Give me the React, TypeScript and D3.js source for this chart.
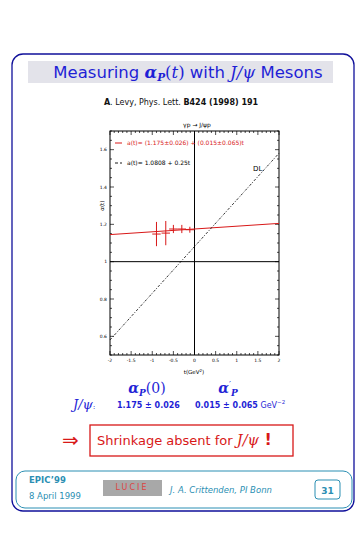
import React from "react";
import * as d3 from "d3";

// J/psi effective trajectory points (t in GeV^2, alpha)
const tValues = [-0.9, -0.68, -0.5, -0.3, -0.11];
const tErrors = [0.1, 0.1, 0.1, 0.1, 0.1];
const alphaValues = [1.148, 1.153, 1.175, 1.175, 1.171];
const alphaErrors = [0.065, 0.065, 0.022, 0.022, 0.016];

// fits: [intercept, slope]
const fitJpsi = [1.175, 0.015];
const fitDL = [1.0808, 0.25];

const xTicks = [-2, -1.5, -1, -0.5, 0, 0.5, 1, 1.5, 2];
const yTicks = [0.6, 0.8, 1, 1.2, 1.4, 1.6];

const BLUE = "#1f1fd6";
const RED = "#d81818";
const TEAL = "#2b8fb3";
const SANS = "'DejaVu Sans', Verdana, sans-serif";
const SERIF = "'DejaVu Serif', 'Liberation Serif', serif";

function App() {
  const x = d3.scaleLinear().domain([-2, 2]).range([110, 279]);
  const y = d3.scaleLinear().domain([0.5, 1.7]).range([355, 131]);
  const [x0, x1] = x.range();
  const [y0, y1] = y.range();

  const jpsiLine = d3
    .line<number>()
    .x((t) => x(t))
    .y((t) => y(fitJpsi[0] + fitJpsi[1] * t));
  const dlLine = d3
    .line<number>()
    .x((t) => x(t))
    .y((t) => y(fitDL[0] + fitDL[1] * t));

  const xMinor = d3.range(-20, 21).map((i) => i / 10);
  const yMinor = d3.range(10, 35).map((i) => i / 20);

  return (
    <svg
      width={363}
      height={535}
      style={{ position: "absolute", left: 0, top: 0, background: "#fff" }}
    >
      {/* outer slide frame */}
      <rect x={12} y={54} width={342} height={457} rx={11} fill="none" stroke="#10109a" strokeWidth={1.3} />

      {/* title */}
      <rect x={28} y={61} width={305} height={22} fill="#e3e3ea" />
      <text x={188} y={78} textAnchor="middle" fontFamily={SANS} fontSize={16.5} fill={BLUE}>
        Measuring{" "}
        <tspan fontFamily={SERIF} fontStyle="italic" fontWeight="bold">α</tspan>
        <tspan fontFamily={SERIF} fontStyle="italic" fontWeight="bold" fontSize={10.5} dy={3}>P</tspan>
        <tspan fontFamily={SERIF} dy={-3}>(</tspan>
        <tspan fontFamily={SERIF} fontStyle="italic">t</tspan>
        <tspan fontFamily={SERIF}>)</tspan> with{" "}
        <tspan fontFamily={SERIF} fontStyle="italic">J/ψ</tspan> Mesons
      </text>
      <text x={181} y={105} textAnchor="middle" fontFamily={SANS} fontSize={8} fill="#111">
        <tspan fontWeight="bold">A</tspan>. Levy, Phys. Lett. <tspan fontWeight="bold">B424 (1998) 191</tspan>
      </text>

      {/* plot */}
      <text x={197} y={127} textAnchor="middle" fontFamily={SANS} fontSize={6} fill="#000">
        γp → J/ψp
      </text>
      <rect x={x0} y={y1} width={x1 - x0} height={y0 - y1} fill="none" stroke="#000" strokeWidth={1} />

      {/* ticks */}
      {xMinor.map((t, i) => {
        const major = Math.abs(t * 2 - Math.round(t * 2)) < 1e-6;
        const len = major ? 4 : 2;
        return (
          <g key={"xt" + i} stroke="#000" strokeWidth={0.7}>
            <line x1={x(t)} x2={x(t)} y1={y0} y2={y0 - len} />
            <line x1={x(t)} x2={x(t)} y1={y1} y2={y1 + len} />
          </g>
        );
      })}
      {yMinor.map((v, i) => {
        const major = Math.abs(v * 5 - Math.round(v * 5)) < 1e-6;
        const len = major ? 4 : 2;
        return (
          <g key={"yt" + i} stroke="#000" strokeWidth={0.7}>
            <line x1={x0} x2={x0 + len} y1={y(v)} y2={y(v)} />
            <line x1={x1} x2={x1 - len} y1={y(v)} y2={y(v)} />
          </g>
        );
      })}
      {xTicks.map((t) => (
        <text key={"xl" + t} x={x(t)} y={362} textAnchor="middle" fontFamily={SANS} fontSize={4.5} fill="#000">
          {t}
        </text>
      ))}
      {yTicks.map((v) => (
        <text key={"yl" + v} x={107} y={y(v) + 1.5} textAnchor="end" fontFamily={SANS} fontSize={4.5} fill="#000">
          {v}
        </text>
      ))}
      <text x={194} y={374} textAnchor="middle" fontFamily={SANS} fontSize={5.5} fill="#000">
        t(GeV<tspan fontSize={4} dy={-2}>2</tspan><tspan dy={2}>)</tspan>
      </text>
      <text
        transform={`translate(104,${y(1.3)}) rotate(-90)`}
        textAnchor="middle"
        fontFamily={SANS}
        fontSize={5.5}
        fill="#000"
      >
        α(t)
      </text>

      {/* reference lines */}
      <line x1={x(0)} x2={x(0)} y1={y1} y2={y0} stroke="#000" strokeWidth={1} />
      <line x1={x0} x2={x1} y1={y(1)} y2={y(1)} stroke="#000" strokeWidth={1} />

      {/* fits */}
      <path d={jpsiLine([-2, 2]) || ""} fill="none" stroke={RED} strokeWidth={1} />
      <path d={dlLine([-2, 2]) || ""} fill="none" stroke="#000" strokeWidth={0.8} strokeDasharray="2.5,1.5,1,1.5" />
      <text x={253} y={171} fontFamily={SANS} fontSize={7} fill="#000">DL</text>

      {/* data points */}
      {tValues.map((t, i) => (
        <g key={"p" + i} stroke={RED} strokeWidth={1}>
          <line x1={x(t - tErrors[i])} x2={x(t + tErrors[i])} y1={y(alphaValues[i])} y2={y(alphaValues[i])} />
          <line
            x1={x(t)}
            x2={x(t)}
            y1={y(alphaValues[i] - alphaErrors[i])}
            y2={y(alphaValues[i] + alphaErrors[i])}
          />
        </g>
      ))}

      {/* legend */}
      <line x1={115} x2={122} y1={143} y2={143} stroke={RED} strokeWidth={1} />
      <text x={127} y={145} fontFamily={SANS} fontSize={6} fill={RED}>
        a(t)= (1.175±0.026) + (0.015±0.065)t
      </text>
      <line x1={115} x2={122} y1={163} y2={163} stroke="#000" strokeWidth={0.9} strokeDasharray="3,2" />
      <text x={127} y={165} fontFamily={SANS} fontSize={6} fill="#000">
        a(t)= 1.0808 + 0.25t
      </text>

      {/* results */}
      <text x={147} y={393} textAnchor="middle" fontFamily={SERIF} fontSize={14} fill={BLUE}>
        <tspan fontStyle="italic" fontWeight="bold">α</tspan>
        <tspan fontStyle="italic" fontWeight="bold" fontSize={9} dy={3}>P</tspan>
        <tspan dy={-3}>(0)</tspan>
      </text>
      <text x={228} y={393} textAnchor="middle" fontFamily={SERIF} fontSize={14} fill={BLUE}>
        <tspan fontStyle="italic" fontWeight="bold">α</tspan>
        <tspan fontSize={9} dy={-5}>′</tspan>
        <tspan fontStyle="italic" fontWeight="bold" fontSize={9} dy={8}>P</tspan>
      </text>
      <text x={73} y={409} fontFamily={SERIF} fontSize={13} fill={BLUE}>
        <tspan fontStyle="italic">J/ψ</tspan>
        <tspan fontSize={8}>:</tspan>
      </text>
      <text x={117} y={408} fontFamily={SANS} fontSize={8} fontWeight="bold" fill={BLUE}>
        1.175 ± 0.026
      </text>
      <text x={195} y={408} fontFamily={SANS} fontSize={8} fill={BLUE}>
        <tspan fontWeight="bold">0.015 ± 0.065</tspan> GeV<tspan fontSize={5.5} dy={-4}>−2</tspan>
      </text>

      <text x={62} y={447} fontFamily={SANS} fontSize={20} fill={RED}>⇒</text>
      <rect x={90} y={425} width={203} height={31} fill="none" stroke={RED} strokeWidth={1.3} />
      <text x={97} y={445} fontFamily={SANS} fontSize={13} fill={RED}>
        Shrinkage absent for <tspan fontFamily={SERIF} fontStyle="italic" fontSize={14.5}>J/ψ</tspan>
        <tspan fontWeight="bold" fontSize={16}> !</tspan>
      </text>

      {/* footer */}
      <rect x={16} y={471} width={336} height={37} rx={9} fill="none" stroke={TEAL} strokeWidth={1} />
      <text x={29} y={483} fontFamily={SANS} fontSize={8.5} fontWeight="bold" fill={TEAL}>EPIC’99</text>
      <text x={29} y={499} fontFamily={SANS} fontSize={8.5} fill={TEAL}>8 April 1999</text>
      <rect x={103} y={480} width={59} height={16} fill="#a8a8a8" />
      <text x={132} y={490} textAnchor="middle" fontFamily={SANS} fontSize={8} fill="#d44" letterSpacing={2}>
        LUCIE
      </text>
      <text x={170} y={493} fontFamily={SANS} fontSize={8.5} fontStyle="italic" fill={TEAL}>
        J. A. Crittenden, PI Bonn
      </text>
      <rect x={315} y={480} width={25} height={19} rx={3} fill="none" stroke={TEAL} strokeWidth={1} />
      <text x={327.5} y={493.5} textAnchor="middle" fontFamily={SANS} fontSize={9} fontWeight="bold" fill={TEAL}>
        31
      </text>
    </svg>
  );
}

export default App;
